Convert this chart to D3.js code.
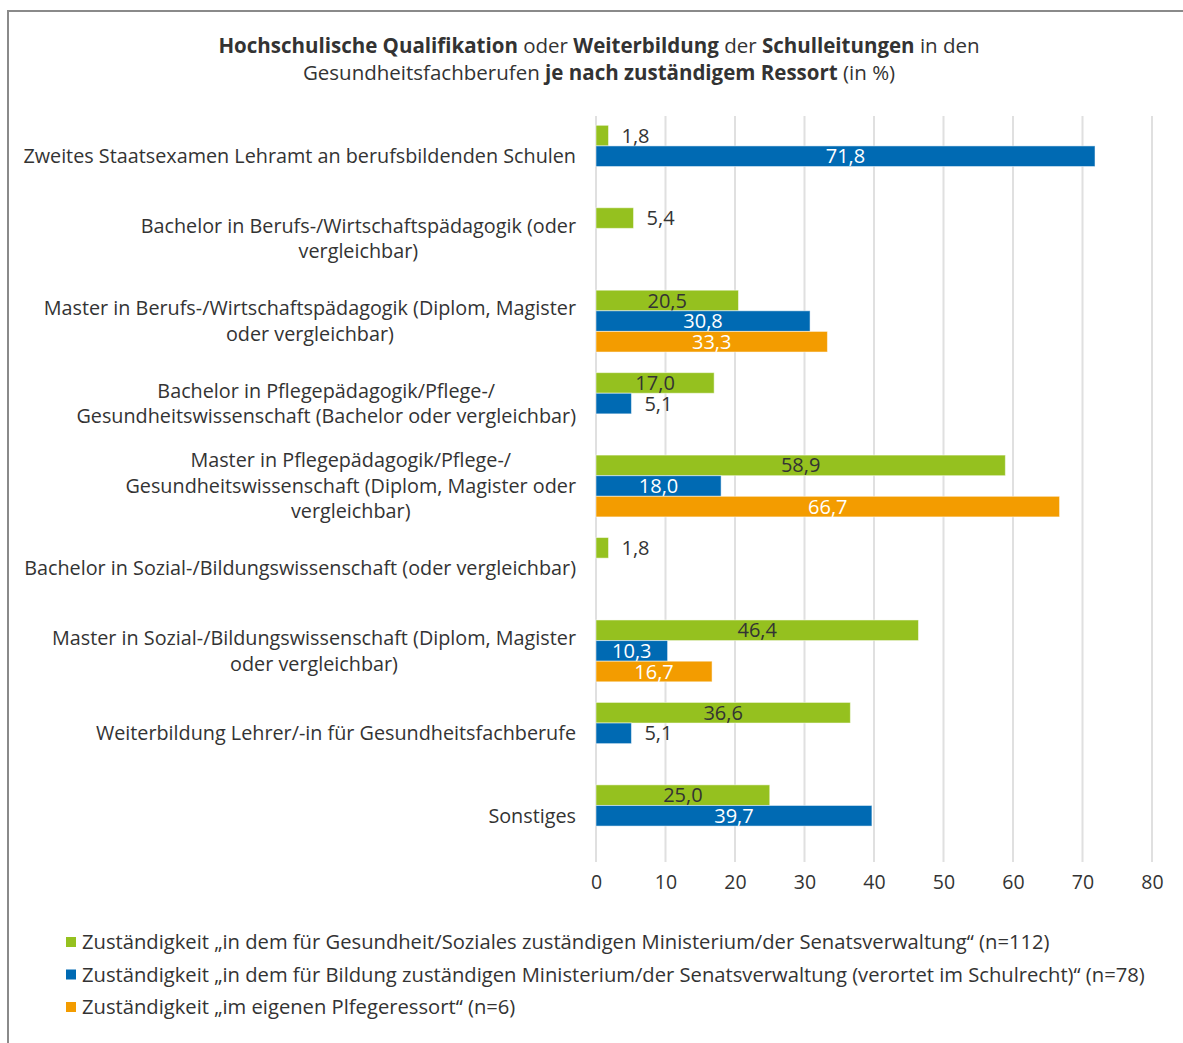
<!DOCTYPE html>
<html><head><meta charset="utf-8">
<script src="https://cdn.jsdelivr.net/npm/d3@7"></script>
<style>
body{margin:0;background:#fff;}
svg text{font-family:"Open Sans","Noto Sans",sans-serif;fill:#333;}
</style></head>
<body>
<svg id="chart" width="1183" height="1043"></svg>
<script>
const categories = [
  ["Zweites Staatsexamen Lehramt an berufsbildenden Schulen"],
  ["Bachelor in Berufs-/Wirtschaftspädagogik (oder", "vergleichbar)"],
  ["Master in Berufs-/Wirtschaftspädagogik (Diplom, Magister", "oder vergleichbar)"],
  ["Bachelor in Pflegepädagogik/Pflege-/", "Gesundheitswissenschaft (Bachelor oder vergleichbar)"],
  ["Master in Pflegepädagogik/Pflege-/", "Gesundheitswissenschaft (Diplom, Magister oder", "vergleichbar)"],
  ["Bachelor in Sozial-/Bildungswissenschaft (oder vergleichbar)"],
  ["Master in Sozial-/Bildungswissenschaft (Diplom, Magister", "oder vergleichbar)"],
  ["Weiterbildung Lehrer/-in für Gesundheitsfachberufe"],
  ["Sonstiges"]
];
const gesundheit = [1.8, 5.4, 20.5, 17.0, 58.9, 1.8, 46.4, 36.6, 25.0];
const bildung    = [71.8, null, 30.8, 5.1, 18.0, null, 10.3, 5.1, 39.7];
const pflege     = [null, null, 33.3, null, 66.7, null, 16.7, null, null];
const seriesNames = [
  "Zuständigkeit „in dem für Gesundheit/Soziales zuständigen Ministerium/der Senatsverwaltung“ (n=112)",
  "Zuständigkeit „in dem für Bildung zuständigen Ministerium/der Senatsverwaltung (verortet im Schulrecht)“ (n=78)",
  "Zuständigkeit „im eigenen Plfegeressort“ (n=6)"
];
const seriesColors = ["#95c11f", "#006ab3", "#f39c00"];
const labelColors = ["#333", "#fff", "#fff"];
const xTicks = [0, 10, 20, 30, 40, 50, 60, 70, 80];

const series = [gesundheit, bildung, pflege];
const svg = d3.select("#chart");

// frame
svg.append("rect").attr("x", 8).attr("y", 11).attr("width", 1300).attr("height", 1200)
  .attr("fill", "none").attr("stroke", "#8a8a8a").attr("stroke-width", 2);

// title
const title = svg.append("text").attr("text-anchor", "middle").attr("font-size", 20.5);
const t1 = title.append("tspan").attr("x", 599).attr("y", 53);
[["Hochschulische Qualifikation", true], [" oder ", false], ["Weiterbildung", true], [" der ", false], ["Schulleitungen", true], [" in den", false]]
  .forEach(([s, b]) => t1.append("tspan").attr("font-weight", b ? 700 : 400).text(s));
const t2 = title.append("tspan").attr("x", 599).attr("y", 80);
[["Gesundheitsfachberufen ", false], ["je nach zuständigem Ressort", true], [" (in %)", false]]
  .forEach(([s, b]) => t2.append("tspan").attr("font-weight", b ? 700 : 400).text(s));

const x = d3.scaleLinear().domain([0, 80]).range([596, 1152]);
const y = d3.scaleBand().domain(d3.range(categories.length)).range([115, 857])
  .paddingInner(0.25).paddingOuter(0.125);
const ys = d3.scaleBand().domain([0, 1, 2]).range([0, y.bandwidth()]);

// grid
svg.append("g").selectAll("line").data(xTicks).join("line")
  .attr("x1", d => x(d)).attr("x2", d => x(d)).attr("y1", 116).attr("y2", 862)
  .attr("stroke", "#e0e0e0").attr("stroke-width", 2);

// x axis
const xAxis = svg.append("g").attr("transform", "translate(0,875)")
  .call(d3.axisBottom(x).tickValues(xTicks).tickSize(0).tickPadding(0));
xAxis.select(".domain").remove();
xAxis.selectAll("text").attr("font-size", 19.5).attr("fill", "#333")
  .attr("font-family", "Open Sans").attr("dy", "0.71em");

// category labels
categories.forEach((lines, i) => {
  const g = svg.append("text").attr("font-size", 19.8).attr("text-anchor", "middle");
  const cy = y(i) + y.bandwidth() / 2;
  const lh = 25.5;
  const ts = lines.map((l, k) => g.append("tspan").attr("y", cy + (k - (lines.length - 1) / 2) * lh).attr("dy", "0.35em").text(l));
  const maxW = d3.max(ts, t => t.node().getComputedTextLength());
  ts.forEach(t => t.attr("x", 576 - maxW / 2));
});

// bars
series.forEach((vals, si) => {
  const g = svg.append("g");
  vals.forEach((v, i) => {
    if (v == null) return;
    const y0 = y(i) + ys(si);
    const w = x(v) - x(0);
    g.append("rect").attr("x", x(0)).attr("y", y0).attr("width", w).attr("height", ys.bandwidth())
      .attr("fill", seriesColors[si]).attr("stroke", "rgba(255,255,255,0.5)").attr("stroke-width", 1);
    const lab = g.append("text").attr("font-size", 20).attr("y", y0 + ys.bandwidth() / 2).attr("dy", "0.35em")
      .text(d3.format(".1f")(v).replace(".", ","));
    const tw = lab.node().getComputedTextLength();
    if (tw + 16 < w) {
      lab.attr("x", x(0) + w / 2).attr("text-anchor", "middle").style("fill", labelColors[si]);
    } else {
      lab.attr("x", x(v) + 13).attr("text-anchor", "start").style("fill", "#333");
    }
  });
});

// legend
seriesNames.forEach((n, i) => {
  const cy = 942 + i * 32.5;
  svg.append("rect").attr("x", 66).attr("y", cy - 5).attr("width", 10).attr("height", 10).attr("fill", seriesColors[i]);
  svg.append("text").attr("x", 82).attr("y", cy).attr("dy", "0.35em").attr("font-size", 20.2).text(n);
});
</script>
</body></html>
